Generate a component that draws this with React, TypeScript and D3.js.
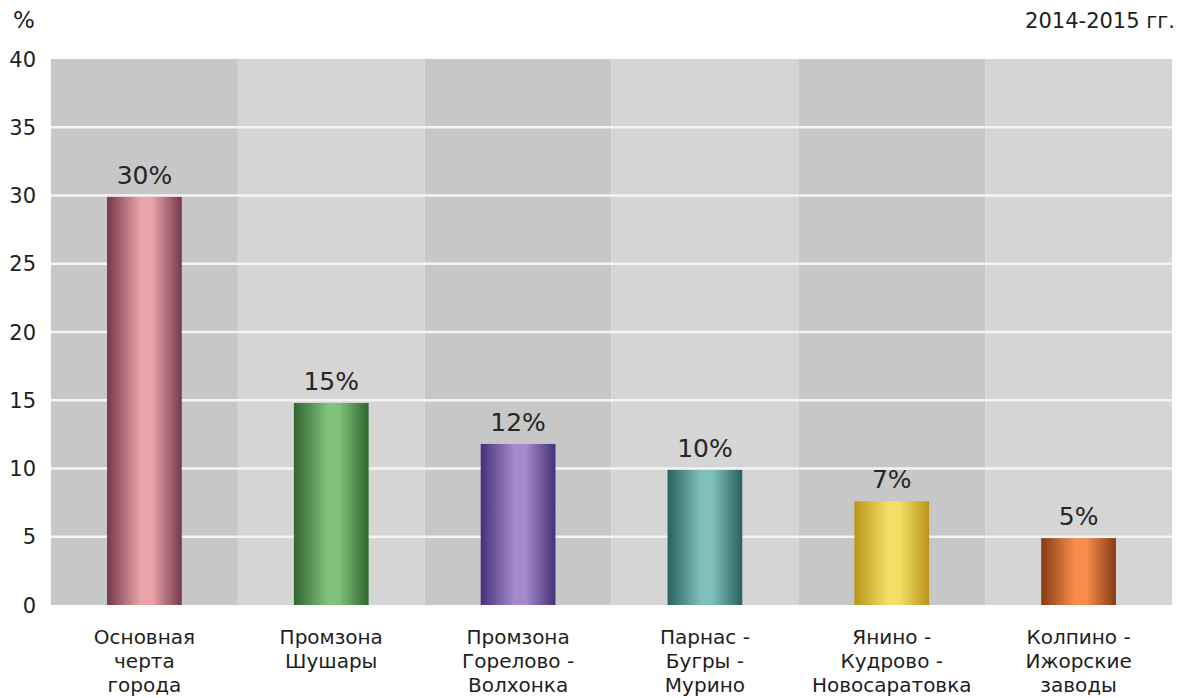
import React from "react";
import * as d3 from "d3";

const categories = [
  ["Основная", "черта", "города"],
  ["Промзона", "Шушары"],
  ["Промзона", "Горелово -", "Волхонка"],
  ["Парнас -", "Бугры -", "Мурино"],
  ["Янино -", "Кудрово -", "Новосаратовка"],
  ["Колпино -", "Ижорские", "заводы"],
];
const values = [29.9, 14.8, 11.8, 9.9, 7.6, 4.9];
const valueLabels = ["30%", "15%", "12%", "10%", "7%", "5%"];
const yTicks = [0, 5, 10, 15, 20, 25, 30, 35, 40];
const barEdge = ["#74394a", "#326630", "#45307a", "#2a605e", "#bb941a", "#853c14"];
const barMid = ["#eaa3a9", "#80c27c", "#a48aca", "#80c0bc", "#f3de66", "#f88c4c"];

const W = 1188, H = 698;
const M = { left: 51, right: 1172, top: 59, bottom: 605 };
const FONT = "'DejaVu Sans', Arial, sans-serif";

export default function App() {
  const x = d3.scaleBand<number>().domain(d3.range(categories.length)).range([M.left, M.right]).paddingInner(0).paddingOuter(0);
  const y = d3.scaleLinear().domain([0, 40]).range([M.bottom, M.top]);
  const bw = x.bandwidth() * 0.4;
  return (
    <svg width={W} height={H} style={{ position: "absolute", left: 0, top: 0, background: "#fff" }}>
      <defs>
        {values.map((_, i) => (
          <linearGradient key={i} id={`g${i}`} x1="0" x2="1" y1="0" y2="0">
            <stop offset="0%" stopColor={barEdge[i]} />
            <stop offset="45%" stopColor={barMid[i]} />
            <stop offset="60%" stopColor={barMid[i]} />
            <stop offset="100%" stopColor={barEdge[i]} />
          </linearGradient>
        ))}
      </defs>
      {categories.map((_, i) => (
        <rect key={i} x={x(i)} y={M.top} width={x.bandwidth()} height={M.bottom - M.top} fill={i % 2 === 0 ? "#c7c7c7" : "#d5d5d5"} />
      ))}
      {yTicks.filter(t => t > 0 && t < 40).map(t => (
        <line key={t} x1={M.left} x2={M.right} y1={y(t)} y2={y(t)} stroke="#f4f4f4" strokeWidth={2.5} />
      ))}
      {yTicks.map(t => (
        <text key={t} x={36} y={y(t)} dy="0.36em" textAnchor="end" fontFamily={FONT} fontSize={21} fill="#1e1e1e">{t}</text>
      ))}
      <text x={13} y={28} fontFamily={FONT} fontSize={23} fill="#1e1e1e">%</text>
      <text x={1175} y={28} textAnchor="end" fontFamily={FONT} fontSize={21} fill="#1e1e1e">2014-2015 гг.</text>
      {values.map((v, i) => {
        const cx = (x(i) as number) + x.bandwidth() / 2;
        return (
          <g key={i}>
            <rect x={cx - bw / 2} y={y(v)} width={bw} height={y(0) - y(v)} fill={`url(#g${i})`} />
            <text x={cx} y={y(v) - 13} textAnchor="middle" fontFamily={FONT} fontSize={25} fill="#262626">{valueLabels[i]}</text>
            {categories[i].map((line, j) => (
              <text key={j} x={cx} y={644 + j * 24} textAnchor="middle" fontFamily={FONT} fontSize={20} fill="#1e1e1e">{line}</text>
            ))}
          </g>
        );
      })}
    </svg>
  );
}
